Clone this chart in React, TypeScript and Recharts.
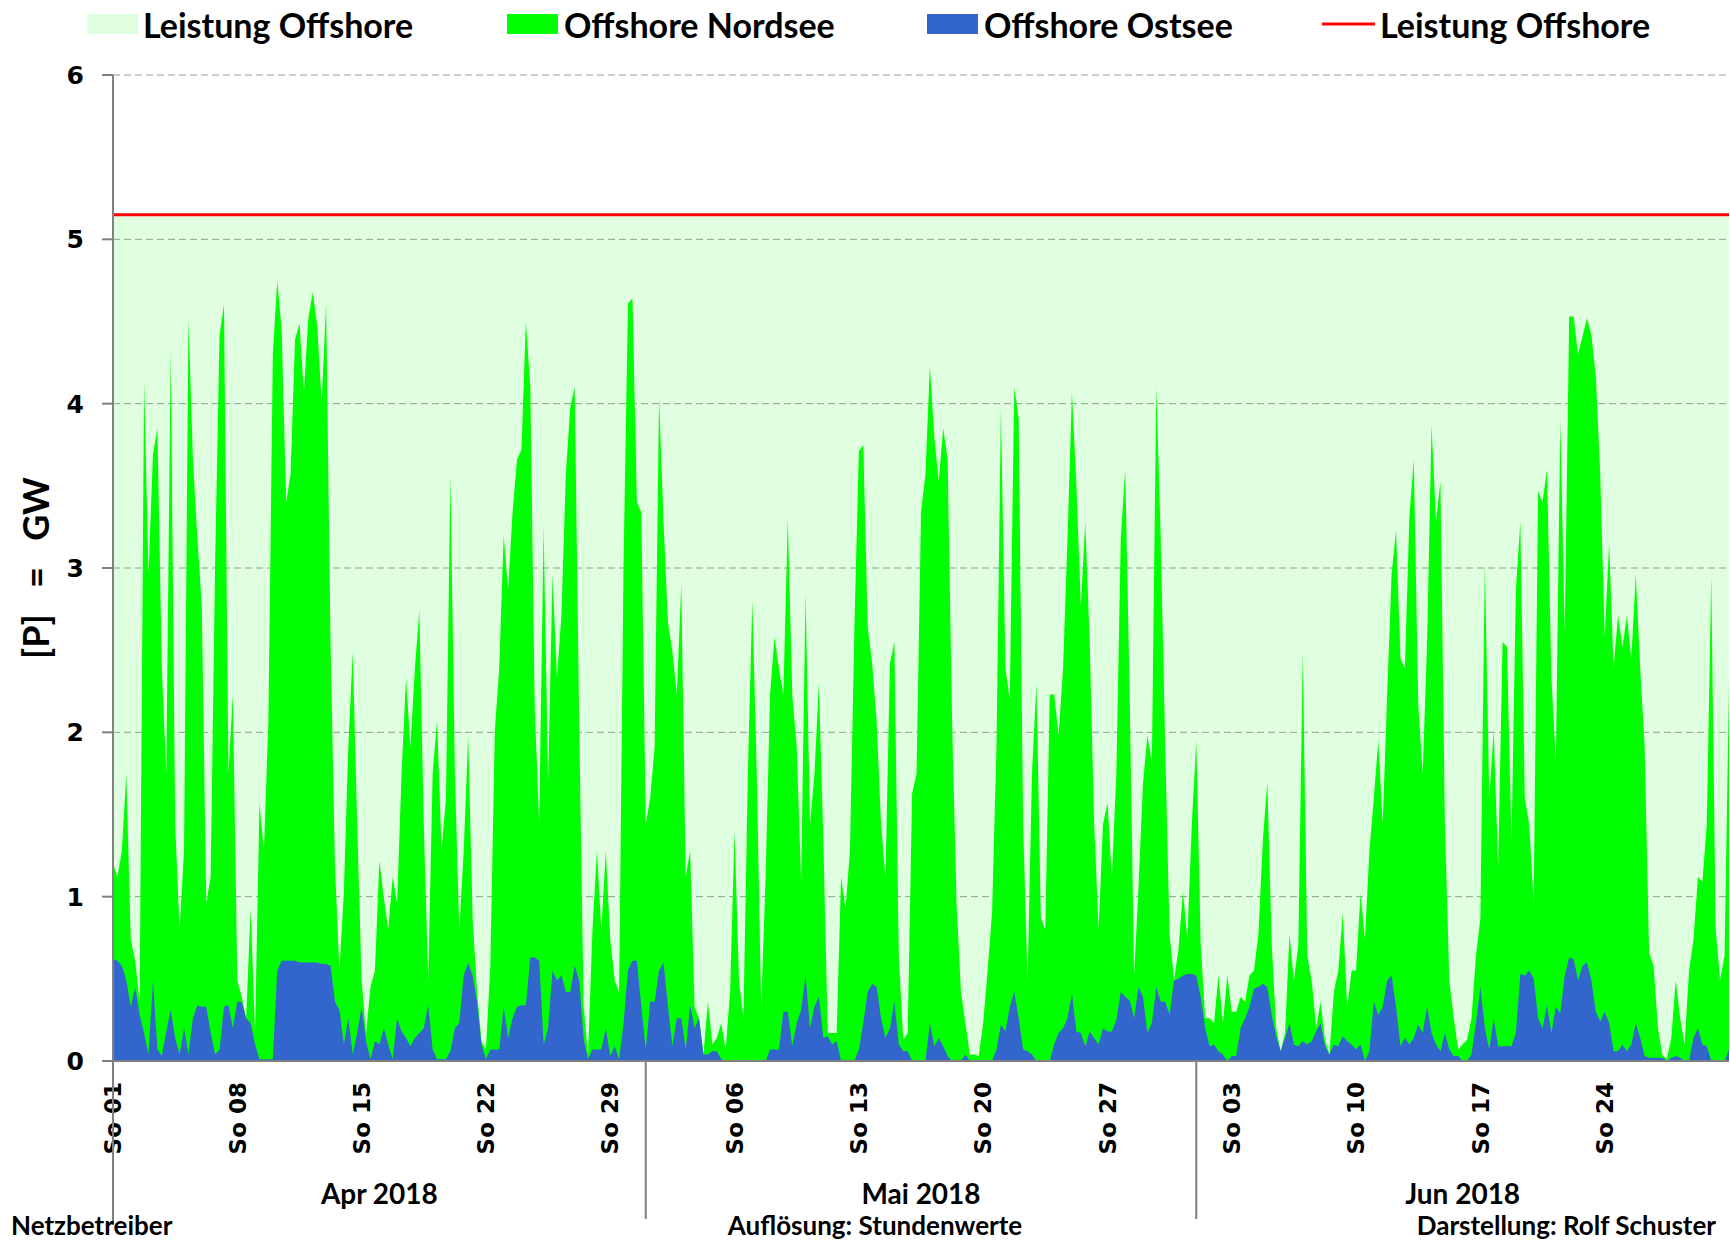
import { ComposedChart, Area, XAxis, YAxis, CartesianGrid } from 'recharts';

// installierte Leistung Offshore (GW)
const installedCapacity = 5.15;

// x axis: days since 01.04.2018 00:00
const sundayTicks = [0, 7, 14, 21, 28, 35, 42, 49, 56, 63, 70, 77, 84];
const sundayLabels = ['So 01', 'So 08', 'So 15', 'So 22', 'So 29', 'So 06', 'So 13', 'So 20', 'So 27', 'So 03', 'So 10', 'So 17', 'So 24'];
const monthBounds = [0, 30, 61];
const monthCenters = [15, 45.5, 76];
const monthLabels = ['Apr 2018', 'Mai 2018', 'Jun 2018'];
const yTicks = [0, 1, 2, 3, 4, 5, 6];

// 6-hour samples (GW), one line per day
const offshoreTotal = [
    1.2, 1.12, 1.28, 1.75,
    0.74, 0.61, 0.36, 4.14,
    2.96, 3.69, 3.85, 2.39,
    1.75, 4.33, 1.44, 0.8,
    1.28, 4.52, 3.66, 3.18,
    2.77, 0.96, 1.12, 3.03,
    4.42, 4.6, 1.75, 2.23,
    0.49, 0.39, 0.26, 0.93,
    0.17, 1.57, 1.28, 2.07,
    4.3, 4.75, 4.45, 3.4,
    3.57, 4.39, 4.49, 4.07,
    4.52, 4.68, 4.47, 4.01,
    4.61, 2.55, 1.18, 0.55,
    1.03, 1.91, 2.49, 1.44,
    0.49, 0.17, 0.45, 0.55,
    1.22, 0.99, 0.8, 1.12,
    0.96, 1.75, 2.33, 1.91,
    2.39, 2.74, 1.44, 0.49,
    1.75, 2.07, 1.28, 1.6,
    3.57, 1.75, 0.8, 1.28,
    1.98, 0.87, 0.42, 0.12,
    0.07, 0.58, 2.01, 2.39,
    3.2, 2.87, 3.34, 3.66,
    3.72, 4.5, 4.1, 2.14,
    1.44, 3.25, 1.69, 2.96,
    2.33, 2.71, 3.57, 3.98,
    4.1, 2.07, 0.33, 0.04,
    0.8, 1.28, 0.8, 1.28,
    0.74, 0.49, 0.42, 3.03,
    4.61, 4.64, 3.4, 3.34,
    1.44, 1.6, 1.91, 4.04,
    3.28, 2.67, 2.49, 2.23,
    2.9, 1.12, 1.28, 0.33,
    0.26, 0.04, 0.36, 0.1,
    0.14, 0.23, 0.07, 0.42,
    1.4, 0.49, 0.26, 1.75,
    2.8, 1.75, 0.33, 1.12,
    2.23, 2.58, 2.39, 2.23,
    3.3, 2.23, 1.91, 1.09,
    2.85, 1.44, 1.75, 2.3,
    1.34, 0.17, 0.17, 0.17,
    1.12, 0.93, 1.28, 2.64,
    3.71, 3.75, 2.64, 2.42,
    2.07, 1.44, 1.12, 2.42,
    2.55, 0.64, 0.13, 0.17,
    1.63, 1.75, 3.34, 3.57,
    4.23, 3.79, 3.53, 3.85,
    3.66, 2.07, 0.96, 0.42,
    0.23, 0.04, 0.04, 0.03,
    0.23, 0.55, 0.9, 1.91,
    3.98, 2.39, 2.2, 4.1,
    3.91, 1.44, 0.49, 1.75,
    2.3, 0.87, 0.8, 2.23,
    2.23, 1.98, 2.39, 3.18,
    4.07, 3.5, 2.77, 3.28,
    2.55, 1.44, 0.8, 1.44,
    1.57, 1.12, 1.75, 3.18,
    3.6, 2.23, 0.52, 1.06,
    1.69, 1.98, 1.82, 4.1,
    3.18, 1.91, 0.77, 0.49,
    0.68, 1.03, 0.74, 1.44,
    1.95, 0.71, 0.26, 0.26,
    0.23, 0.52, 0.23, 0.52,
    0.3, 0.3, 0.39, 0.36,
    0.52, 0.55, 0.77, 1.34,
    1.7, 0.71, 0.2, 0.06,
    0.17, 0.77, 0.49, 0.71,
    2.5, 0.64, 0.49, 0.2,
    0.36, 0.13, 0.04, 0.42,
    0.55, 0.9, 0.33, 0.55,
    0.55, 1.02, 0.74, 1.28,
    1.6, 1.95, 1.44, 2.23,
    2.96, 3.23, 2.45, 2.39,
    3.31, 3.66, 2.17, 1.75,
    2.55, 3.87, 3.28, 3.53,
    1.44, 0.49, 0.26, 0.07,
    0.1, 0.13, 0.26, 0.64,
    0.87, 3.03, 1.6, 2.01,
    1.18, 2.55, 2.52, 1.33,
    2.87, 3.28, 1.6, 1.44,
    0.96, 3.47, 3.4, 3.6,
    2.33, 1.82, 3.9, 2.61,
    4.53, 4.53, 4.3, 4.41,
    4.52, 4.42, 4.17, 3.57,
    2.58, 3.15, 2.39, 2.71,
    2.52, 2.71, 2.45, 2.96,
    2.39, 1.91, 0.66, 0.58,
    0.2, 0.04, 0.01, 0.14,
    0.49, 0.26, 0.1, 0.55,
    0.74, 1.12, 1.09, 1.44,
    2.95, 0.8, 0.49, 0.64,
    2.3,
];

const ostsee = [
    0.62, 0.61, 0.58, 0.49,
    0.33, 0.45, 0.28, 0.17,
    0.04, 0.49, 0.07, 0.03,
    0.18, 0.31, 0.14, 0.04,
    0.2, 0.04, 0.26, 0.34,
    0.33, 0.33, 0.17, 0.04,
    0.07, 0.33, 0.34, 0.2,
    0.36, 0.36, 0.26, 0.23,
    0.1, 0.01, 0.01, 0.01,
    0.01, 0.55, 0.61, 0.61,
    0.61, 0.61, 0.6, 0.6,
    0.6, 0.6, 0.6, 0.59,
    0.59, 0.58, 0.36, 0.31,
    0.1, 0.26, 0.04, 0.17,
    0.33, 0.12, 0.01, 0.12,
    0.1, 0.2, 0.1, 0.01,
    0.26, 0.18, 0.14, 0.09,
    0.14, 0.17, 0.2, 0.34,
    0.07, 0.01, 0.01, 0.01,
    0.06, 0.2, 0.23, 0.52,
    0.6, 0.52, 0.36, 0.1,
    0.01, 0.07, 0.07, 0.07,
    0.33, 0.14, 0.26, 0.33,
    0.34, 0.34, 0.63, 0.63,
    0.61, 0.1, 0.2, 0.55,
    0.49, 0.52, 0.42, 0.42,
    0.58, 0.49, 0.14, 0.01,
    0.07, 0.07, 0.07, 0.2,
    0.03, 0.09, 0.01, 0.23,
    0.55, 0.61, 0.61, 0.33,
    0.07, 0.36, 0.36, 0.55,
    0.6, 0.33, 0.09, 0.26,
    0.26, 0.07, 0.34, 0.2,
    0.26, 0.04, 0.04, 0.06,
    0.06, 0.01, 0, 0,
    0, 0, 0, 0,
    0, 0, 0, 0,
    0.07, 0.07, 0.07, 0.3,
    0.3, 0.09, 0.23, 0.31,
    0.52, 0.2, 0.33, 0.39,
    0.14, 0.15, 0.1, 0.12,
    0, 0, 0, 0,
    0.07, 0.23, 0.42, 0.47,
    0.45, 0.26, 0.14, 0.2,
    0.36, 0.1, 0.06, 0.06,
    0, 0, 0, 0,
    0.23, 0.09, 0.14, 0.09,
    0.03, 0, 0, 0,
    0.04, 0, 0, 0,
    0, 0, 0, 0.07,
    0.22, 0.18, 0.33, 0.42,
    0.26, 0.07, 0.06, 0.04,
    0, 0, 0, 0,
    0.1, 0.17, 0.2, 0.26,
    0.41, 0.18, 0.17, 0.09,
    0.18, 0.14, 0.1, 0.2,
    0.18, 0.18, 0.25, 0.42,
    0.39, 0.37, 0.26, 0.45,
    0.39, 0.17, 0.23, 0.45,
    0.36, 0.36, 0.28, 0.49,
    0.5, 0.52, 0.53, 0.53,
    0.52, 0.39, 0.2, 0.09,
    0.1, 0.06, 0.04, 0,
    0.03, 0.03, 0.2, 0.26,
    0.33, 0.44, 0.45, 0.47,
    0.45, 0.28, 0.15, 0.06,
    0.14, 0.23, 0.1, 0.09,
    0.12, 0.1, 0.12, 0.18,
    0.23, 0.09, 0.04, 0.1,
    0.09, 0.15, 0.12, 0.1,
    0.07, 0.1, 0, 0.06,
    0.36, 0.28, 0.33, 0.49,
    0.52, 0.33, 0.09, 0.14,
    0.1, 0.14, 0.22, 0.17,
    0.33, 0.17, 0.1, 0.06,
    0.17, 0.07, 0.03, 0.03,
    0, 0, 0.04, 0.23,
    0.45, 0.2, 0.07, 0.26,
    0.09, 0.09, 0.09, 0.09,
    0.17, 0.53, 0.52, 0.55,
    0.5, 0.26, 0.2, 0.34,
    0.17, 0.33, 0.29, 0.52,
    0.63, 0.62, 0.49, 0.58,
    0.6, 0.49, 0.3, 0.24,
    0.3, 0.23, 0.06, 0.06,
    0.1, 0.06, 0.1, 0.23,
    0.14, 0.03, 0.02, 0.02,
    0.02, 0.02, 0, 0.02,
    0.03, 0.02, 0, 0,
    0.14, 0.2, 0.1, 0.09,
    0, 0, 0, 0,
    0.07,
];

const data = offshoreTotal.map((v, i) => ({
    t: i / 4,
    total: v,
    ostsee: ostsee[i],
    cap: installedCapacity,
}));

const GRAY = '#808080';
const LABEL_FONT = 'Lato, "Open Sans", sans-serif';
const TICK_FONT = '"DejaVu Sans", Verdana, sans-serif';

function DayTick({ x, y, payload }: any) {
    const i = sundayTicks.indexOf(payload.value);
    const ty = y + 21;
    return (
        <text
            x={x}
            y={ty}
            transform={`rotate(-90, ${x}, ${ty})`}
            textAnchor="end"
            dy="0.36em"
            fontFamily={TICK_FONT}
            fontWeight="bold"
            fontSize={23}
            fill="#000"
        >
            {sundayLabels[i]}
        </text>
    );
}

function MonthTick({ x, y, payload }: any) {
    const v = payload.value;
    if (monthBounds.includes(v)) {
        return <line x1={x} x2={x} y1={y - 90} y2={y + (v === 0 ? 74 : 68)} stroke={GRAY} strokeWidth={2} />;
    }
    const i = monthCenters.indexOf(v);
    return (
        <text x={x} y={y + 42} textAnchor="middle" dominantBaseline="central"
            fontFamily={LABEL_FONT} fontWeight="bold" fontSize={28} fill="#000">
            {monthLabels[i]}
        </text>
    );
}

export default function App() {
    const textStyle = { fontFamily: LABEL_FONT, fontWeight: 700 as const, fill: '#000' };
    return (
        <div style={{ position: 'absolute', left: 0, top: 0, width: 1730, height: 1240, background: '#fff' }}>
            <ComposedChart width={1730} height={1240} data={data}
                margin={{ top: 75, right: 1, left: 0, bottom: 0 }}>
                <CartesianGrid vertical={false} stroke="#9a9a9a" strokeDasharray="7 4" />

                <XAxis
                    dataKey="t"
                    type="number"
                    domain={[0, 91]}
                    ticks={sundayTicks}
                    interval={0}
                    tick={<DayTick />}
                    tickLine={false}
                    tickSize={0}
                    tickMargin={0}
                    axisLine={{ stroke: GRAY, strokeWidth: 2 }}
                    height={90}
                />
                <XAxis
                    xAxisId="m"
                    dataKey="t"
                    type="number"
                    domain={[0, 91]}
                    ticks={[0, 15, 30, 45.5, 61, 76]}
                    interval={0}
                    tick={<MonthTick />}
                    tickLine={false}
                    tickSize={0}
                    tickMargin={0}
                    axisLine={false}
                    height={89}
                />
                <YAxis
                    type="number"
                    domain={[0, 6]}
                    ticks={yTicks}
                    interval={0}
                    width={113}
                    tickSize={11}
                    tickMargin={18}
                    tick={{ fontFamily: TICK_FONT, fontWeight: 'bold', fontSize: 25, fill: '#000' }}
                    axisLine={{ stroke: GRAY, strokeWidth: 2 }}
                    tickLine={{ stroke: GRAY, strokeWidth: 2 }}
                />

                <Area
                    type="linear"
                    dataKey="cap"
                    stroke="#ff0000"
                    strokeWidth={3}
                    fill="#00ff00"
                    fillOpacity={0.12}
                    dot={false}
                    activeDot={false}
                    isAnimationActive={false}
                />
                <Area
                    type="linear"
                    dataKey="total"
                    stroke="none"
                    fill="#00ff00"
                    fillOpacity={1}
                    dot={false}
                    activeDot={false}
                    isAnimationActive={false}
                />
                <Area
                    type="linear"
                    dataKey="ostsee"
                    stroke="none"
                    fill="#3366cc"
                    fillOpacity={1}
                    dot={false}
                    activeDot={false}
                    isAnimationActive={false}
                />
            </ComposedChart>

            <svg width={1730} height={1240} style={{ position: 'absolute', left: 0, top: 0, pointerEvents: 'none' }}>
                {/* legend */}
                <rect x={87} y={14} width={51} height={20} fill="#e0ffe0" />
                <text x={143} y={24} dominantBaseline="central" fontSize={34} {...textStyle}>Leistung Offshore</text>
                <rect x={507} y={14} width={51} height={20} fill="#00ff00" />
                <text x={564} y={24} dominantBaseline="central" fontSize={34} {...textStyle}>Offshore Nordsee</text>
                <rect x={927} y={14} width={51} height={20} fill="#3366cc" />
                <text x={984} y={24} dominantBaseline="central" fontSize={34} {...textStyle}>Offshore Ostsee</text>
                <line x1={1322} x2={1375} y1={24} y2={24} stroke="#ff0000" strokeWidth={3} />
                <text x={1380} y={24} dominantBaseline="central" fontSize={34} {...textStyle}>Leistung Offshore</text>

                {/* y axis title */}
                <text x={35} y={568} transform="rotate(-90, 35, 568)" textAnchor="middle" dominantBaseline="central"
                    fontSize={36} style={{ whiteSpace: 'pre' }} {...textStyle}>[P]   =   GW</text>

                {/* footer */}
                <text x={11} y={1225} dominantBaseline="central" fontSize={26} {...textStyle}>Netzbetreiber</text>
                <text x={875} y={1225} textAnchor="middle" dominantBaseline="central" fontSize={26} {...textStyle}>Auflösung: Stundenwerte</text>
                <text x={1716} y={1225} textAnchor="end" dominantBaseline="central" fontSize={26} {...textStyle}>Darstellung: Rolf Schuster</text>
            </svg>
        </div>
    );
}
